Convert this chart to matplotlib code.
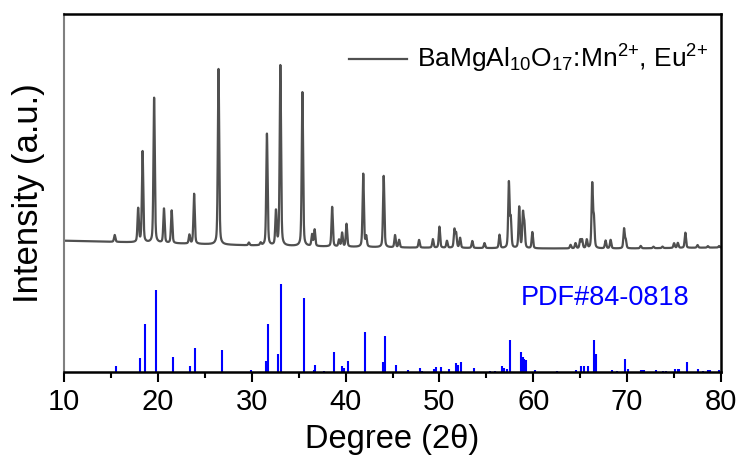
import numpy as np
import matplotlib
matplotlib.use("Agg")
import matplotlib.pyplot as plt

plt.rcParams['font.family'] = ['Liberation Sans', 'DejaVu Sans']
plt.rcParams['mathtext.fontset'] = 'custom'
plt.rcParams['mathtext.rm'] = 'Liberation Sans'
plt.rcParams['mathtext.it'] = 'Liberation Sans:italic'

# ---- measured XRD pattern: peak positions (2theta) and heights above background (a.u.)
xrd_pos = [15.4, 17.9, 18.37, 19.6, 20.65, 21.47, 23.36, 23.86, 26.46, 29.7,
           30.95, 31.62, 32.58, 33.05, 35.4, 36.43, 36.7, 38.57, 39.3, 39.63,
           40.1, 41.88, 42.2, 44.06, 45.27, 45.7, 47.83, 49.3, 50.0, 50.8,
           51.6, 51.78, 52.2, 53.5, 54.8, 56.4, 57.4, 57.6, 58.5, 58.9,
           59.05, 59.9, 63.97, 64.5, 65.0, 65.2, 65.7, 66.28, 66.46, 67.7,
           68.24, 69.67, 69.85, 71.45, 72.8, 73.77, 75.0, 75.4, 76.2, 77.5,
           78.6, 79.8]
xrd_int = [6.9, 33.5, 90.9, 144.9, 34.2, 32.7, 8.8, 50.0, 175.6, 2.7,
           2.5, 111.7, 33.8, 180.2, 153.9, 11.4, 16.4, 39.6, 6.7, 13.7,
           22.8, 73.1, 10.0, 71.4, 12.2, 7.5, 7.7, 8.5, 21.1, 6.9,
           17.9, 14.0, 9.9, 7.0, 5.0, 13.3, 65.0, 28.0, 41.0, 33.0,
           22.0, 16.2, 3.5, 5.2, 8.5, 8.5, 8.5, 63.5, 28.0, 7.8,
           8.5, 19.5, 8.0, 2.4, 1.5, 1.5, 4.7, 5.0, 15.2, 2.7,
           1.5, 1.5]
# background level of the measured pattern (a.u.)
bg_pos = [10, 20, 30, 45, 60, 70, 80]
bg_int = [131.6, 129.3, 126.8, 124.8, 123.8, 123.8, 124.8]

# ---- PDF#84-0818 reference lines: 2theta and relative intensity (%)
pdf_pos = [15.56, 18.12, 18.58, 19.76, 21.6, 23.47, 24.0, 26.78, 29.88, 31.55,
           31.73, 32.76, 33.17, 35.54, 36.65, 36.72, 37.68, 38.78, 39.67, 39.85,
           40.24, 42.06, 43.98, 44.2, 45.4, 46.62, 47.94, 48.19, 49.47, 49.68,
           50.18, 51.04, 51.79, 51.97, 52.25, 53.71, 55.42, 55.95, 56.67, 56.84,
           57.2, 57.54, 58.7, 58.87, 59.05, 59.2, 60.23, 62.55, 64.6, 65.04,
           65.4, 65.86, 66.43, 66.68, 68.35, 68.96, 69.74, 70.14, 71.45, 71.63,
           71.8, 73.05, 73.77, 74.1, 75.08, 75.37, 75.5, 76.33, 77.5, 78.04,
           78.58, 78.83, 79.82]
pdf_int = [6.8, 16.3, 54.8, 93.2, 17.0, 6.8, 27.6, 25.3, 2.7, 12.4,
           54.8, 20.8, 100.0, 83.7, 2.3, 8.4, 1.1, 23.4, 7.6, 4.5,
           12.9, 45.2, 11.3, 40.7, 8.4, 2.3, 4.5, 1.1, 3.8, 5.7,
           5.7, 4.2, 11.0, 8.7, 11.3, 5.0, 1.7, 1.1, 7.0, 5.3,
           4.0, 36.8, 23.4, 17.8, 15.2, 14.4, 2.7, 1.1, 2.7, 6.8,
           6.8, 6.8, 37.0, 20.8, 2.3, 1.7, 14.7, 3.4, 3.1, 3.1,
           2.7, 2.3, 1.7, 1.7, 3.4, 3.4, 3.4, 12.1, 3.8, 1.7,
           2.7, 2.3, 3.1]

legend_label = r'BaMgAl$_{10}$O$_{17}$:Mn$^{2{+}}$, Eu$^{2{+}}$'
pdf_label = 'PDF#84-0818'

# ---- build measured curve from peak list (pseudo-Voigt profiles)
tt = np.linspace(10, 80, 7001)
fwhm = 0.17
sig = fwhm / 2.3548
gam = fwhm / 2
curve = np.interp(tt, bg_pos, bg_int)
for p, h in zip(xrd_pos, xrd_int):
    g = np.exp(-0.5 * ((tt - p) / sig) ** 2)
    l = 1.0 / (1.0 + ((tt - p) / gam) ** 2)
    curve = curve + h * (0.6 * g + 0.4 * l)

fig = plt.figure(figsize=(7.41, 4.73), dpi=100)
ax = fig.add_axes([0.0864, 0.2129, 0.8866, 0.7575])

ax.plot(tt, curve, color='#505050', lw=1.6, label=legend_label)
pdf_scale = 0.884
ax.vlines(pdf_pos, 0, np.array(pdf_int) * pdf_scale, color='#0000ff', lw=1.5)

ax.set_xlim(10, 80)
ax.set_ylim(0, 358.3)
ax.set_xticks(np.arange(10, 81, 10))
ax.set_xticks(np.arange(15, 80, 10), minor=True)
ax.set_yticks([])
ax.tick_params(axis='x', which='major', direction='out', length=7, width=1.5,
               labelsize=21, pad=4)
ax.tick_params(axis='x', which='minor', direction='out', length=4, width=1.5)

for s in ['top', 'right', 'bottom']:
    ax.spines[s].set_color('black')
    ax.spines[s].set_linewidth(1.8)
ax.spines['left'].set_color('#808080')
ax.spines['left'].set_linewidth(1.5)

ax.set_xlabel('Degree (2θ)', fontsize=23.5, labelpad=6)
ax.set_ylabel('Intensity (a.u.)', fontsize=25, labelpad=14)

ax.legend(loc='upper right', frameon=False, fontsize=19, handlelength=2.2,
          bbox_to_anchor=(1.009, 0.97), handletextpad=0.4, borderaxespad=0.3)
ax.text(67.7, 74.3, pdf_label, color='#0000ff', fontsize=19.5,
        ha='center', va='center')

fig.savefig('out.png', dpi=100)
